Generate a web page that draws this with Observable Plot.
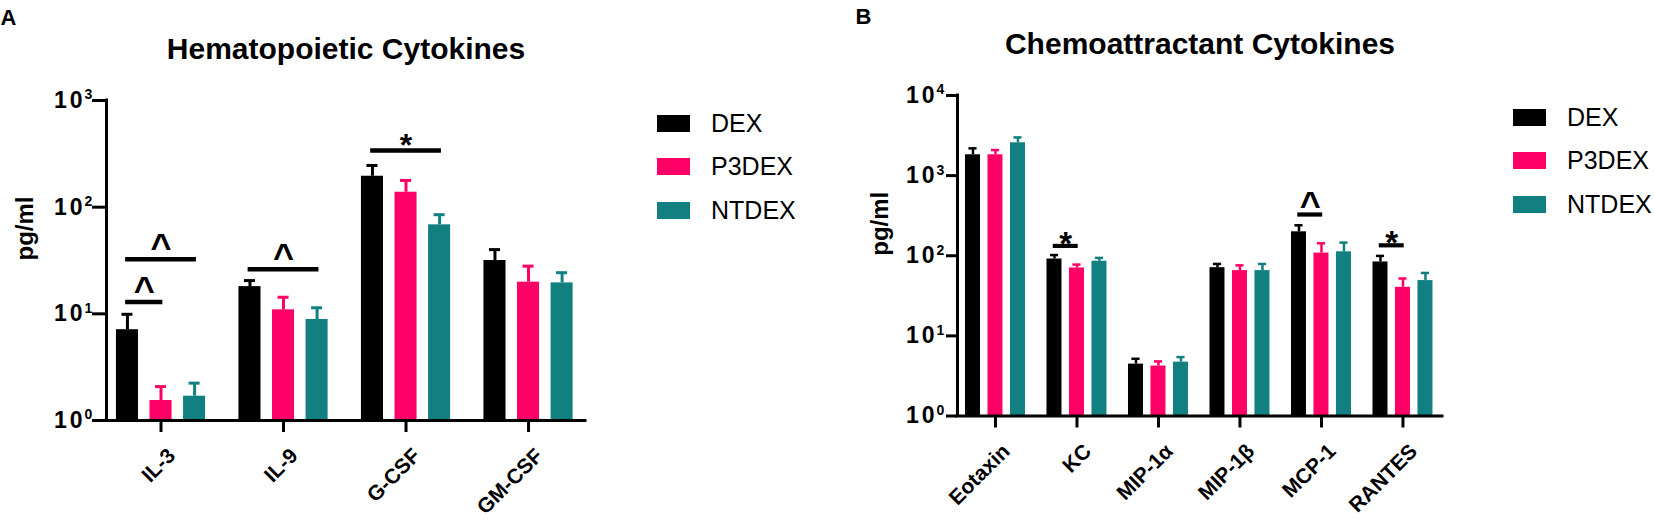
<!DOCTYPE html>
<html><head><meta charset="utf-8">
<script src="https://cdn.jsdelivr.net/npm/d3@7"></script>
<script src="https://cdn.jsdelivr.net/npm/@observablehq/plot@0.6"></script>
<style>
body{margin:0;background:#fff;}
#wrap{position:relative;width:1654px;height:522px;overflow:hidden;font-family:"Liberation Sans",Arial,sans-serif;background:#fff;}
#wrap svg{position:absolute;top:0;overflow:visible;}
.row{position:absolute;display:flex;align-items:center;white-space:nowrap;height:25px;}
.sw{width:33px;height:17px;flex:none;}
.lt{font-size:25px;line-height:25px;margin-left:21px;color:#000;}
</style></head><body><div id="wrap"></div>
<script>
// ---- data ----
const series = ["DEX", "P3DEX", "NTDEX"];
const seriesColors = ["#000000", "#FF0066", "#128080"];

// Panel A: Hematopoietic cytokines (pg/ml), mean and mean+SEM
const catsA = ["IL-3", "IL-9", "G-CSF", "GM-CSF"];
const dexA = [7.1, 18.0, 195, 31.6];
const dexTopA = [9.9, 20.5, 246, 40];
const p3dexA = [1.54, 10.9, 138, 19.8];
const p3dexTopA = [2.08, 14.3, 178, 28];
const ntdexA = [1.69, 8.85, 68.3, 19.5];
const ntdexTopA = [2.24, 11.4, 85, 24.3];
const yTicksA = [1, 10, 100, 1000];
const sigA = [
  {cat: "IL-3", from: "DEX", to: "P3DEX", y: 12.9, label: "^"},
  {cat: "IL-3", from: "DEX", to: "NTDEX", y: 32.5, label: "^"},
  {cat: "IL-9", from: "DEX", to: "NTDEX", y: 26.2, label: "^"},
  {cat: "G-CSF", from: "DEX", to: "NTDEX", y: 340, label: "*"}
];

// Panel B: Chemoattractant cytokines (pg/ml)
const catsB = ["Eotaxin", "KC", "MIP-1α", "MIP-1β", "MCP-1", "RANTES"];
const dexB = [1820, 91, 4.44, 71, 199, 83.7];
const dexTopB = [2190, 102, 5.18, 79, 240, 99.5];
const p3dexB = [1820, 70.4, 4.2, 65.3, 108, 40.4];
const p3dexTopB = [2084, 77.6, 4.8, 75.9, 143, 52];
const ntdexB = [2570, 85.4, 4.7, 65.3, 112, 49];
const ntdexTopB = [3000, 94, 5.43, 79, 146, 61];
const yTicksB = [1, 10, 100, 1000, 10000];
const sigB = [
  {cat: "KC", from: "DEX", to: "P3DEX", y: 132.6, label: "*"},
  {cat: "MCP-1", from: "DEX", to: "P3DEX", y: 327, label: "^"},
  {cat: "RANTES", from: "DEX", to: "P3DEX", y: 135, label: "*"}
];

const FONT = "Liberation Sans, Arial, Helvetica, sans-serif";

function panel(o) {
  const rows = [];
  o.cats.forEach((c, i) => series.forEach((s, j) => rows.push({cat: c, gi: i, series: s, sj: j, mean: o.mean[j][i], top: o.top[j][i]})));
  const xc = d => d.gi + (d.sj - 1) * o.offset;
  const pos = (cat, s) => o.cats.indexOf(cat) + (series.indexOf(s) - 1) * o.offset;
  const sig = o.sig.map(d => {
    const x1 = pos(d.cat, d.from) - 0.015, x2 = pos(d.cat, d.to) + 0.015;
    return {...d, x1, x2, xm: (x1 + x2) / 2};
  });
  const idx = o.cats.map((d, i) => i);
  const svg = Plot.plot({
    width: o.width, height: 522,
    marginLeft: o.ml, marginRight: o.mr, marginTop: o.mt, marginBottom: o.mb,
    style: {fontFamily: FONT, background: "transparent", overflow: "visible", color: "#000"},
    x: {type: "linear", domain: o.xDomain, label: null},
    y: {type: "log", domain: o.yDomain, label: null},
    color: {domain: series, range: seriesColors},
    marks: [
      Plot.rect(rows, {x1: d => xc(d) - o.barW / 2, x2: d => xc(d) + o.barW / 2, y1: o.yDomain[0], y2: "mean", fill: "series"}),
      Plot.ruleX(rows, {x: xc, y1: "mean", y2: "top", stroke: "series", strokeWidth: o.errW}),
      Plot.ruleY(rows, {y: "top", x1: d => xc(d) - o.capW / 2, x2: d => xc(d) + o.capW / 2, stroke: "series", strokeWidth: o.errW}),
      Plot.ruleX([o.xDomain[0]], {strokeWidth: 3, strokeLinecap: "square"}),
      Plot.ruleY([o.yDomain[0]], {strokeWidth: 3, strokeLinecap: "square"}),
      Plot.axisY({ticks: o.yTicks, tickSize: o.yTickSize, tickFormat: () => "", strokeWidth: 3}),
      Plot.axisX({ticks: idx, tickSize: 12, tickFormat: () => "", strokeWidth: 3}),
      Plot.text(o.yTicks, {y: d => d, frameAnchor: "left", text: () => "10", textAnchor: "end", dx: o.baseDx, fontSize: 23, fontWeight: "bold", ariaDescription: "ybase"}),
      Plot.text(o.yTicks, {y: d => d, frameAnchor: "left", text: d => String(Math.round(Math.log10(d))), textAnchor: "start", dx: o.supDx, dy: -5.5, fontSize: 14, fontWeight: "bold"}),
      Plot.text(o.cats, {x: (d, i) => i, frameAnchor: "bottom", text: d => d, rotate: -45, textAnchor: "end", lineAnchor: "top", dx: 5, dy: 26, fontSize: 21, fontWeight: "bold"}),
      Plot.text([o.yLabel], {frameAnchor: "left", rotate: -90, dx: o.yLabelDx, fontSize: 24, fontWeight: "bold"}),
      Plot.text([o.title], {frameAnchor: "top", lineAnchor: "bottom", dy: o.titleDy, fontSize: 30, fontWeight: "bold"}),
      Plot.text([o.letter], {frameAnchor: "top-left", textAnchor: "start", lineAnchor: "bottom", dx: o.letterDx, dy: o.letterDy, fontSize: 22, fontWeight: "bold"}),
      Plot.ruleY(sig, {y: "y", x1: "x1", x2: "x2", strokeWidth: o.sigW}),
      Plot.text(sig.filter(d => d.label === "^"), {x: "xm", y: "y", text: "label", lineAnchor: "bottom", dy: o.caretDy, fontSize: 36, fontWeight: "bold"}),
      Plot.text(sig.filter(d => d.label === "*"), {x: "xm", y: "y", text: "label", lineAnchor: "bottom", dy: o.astDy, fontSize: o.astSize, fontWeight: "bold"})
    ]
  });
  svg.style.left = o.left + "px";
  d3.select(svg).selectAll('g[aria-description="ybase"] text').style("letter-spacing", "3px");
  return svg;
}

function legend(left, tops) {
  const div = document.createElement("div");
  series.forEach((s, j) => {
    const r = document.createElement("div");
    r.className = "row";
    r.style.left = left + "px";
    r.style.top = (tops[j] - 12.5) + "px";
    r.innerHTML = `<div class="sw" style="background:${seriesColors[j]}"></div><div class="lt">${s}</div>`;
    div.appendChild(r);
  });
  return div;
}

const wrap = document.getElementById("wrap");
wrap.appendChild(panel({
  left: 0, width: 820, ml: 106, mr: 235, mt: 100, mb: 102,
  cats: catsA, mean: [dexA, p3dexA, ntdexA], top: [dexTopA, p3dexTopA, ntdexTopA],
  yDomain: [1, 1000], yTicks: yTicksA, xDomain: [-0.445, 3.465],
  offset: 0.274, barW: 0.18, capW: 0.09, errW: 3, yTickSize: 14,
  baseDx: -21, supDx: -22, yLabel: "pg/ml", yLabelDx: -81,
  title: "Hematopoietic Cytokines", titleDy: -41.7, letter: "A", letterDx: -106, letterDy: -76,
  sig: sigA, sigW: 4.5, caretDy: 0, astDy: 6, astSize: 32
}));
wrap.appendChild(panel({
  left: 820, width: 834, ml: 137, mr: 212, mt: 95, mb: 106.5,
  cats: catsB, mean: [dexB, p3dexB, ntdexB], top: [dexTopB, p3dexTopB, ntdexTopB],
  yDomain: [1, 10000], yTicks: yTicksB, xDomain: [-0.466, 5.485],
  offset: 0.276, barW: 0.184, capW: 0.1, errW: 2.5, yTickSize: 11,
  baseDx: -20, supDx: -21, yLabel: "pg/ml", yLabelDx: -77,
  title: "Chemoattractant Cytokines", titleDy: -41.5, letter: "B", letterDx: -102, letterDy: -72,
  sig: sigB, sigW: 4.2, caretDy: 2, astDy: 9, astSize: 33
}));
wrap.appendChild(legend(657, [123.5, 166.8, 210.2]));
wrap.appendChild(legend(1513, [117.7, 160.7, 204.3]));
</script></body></html>
